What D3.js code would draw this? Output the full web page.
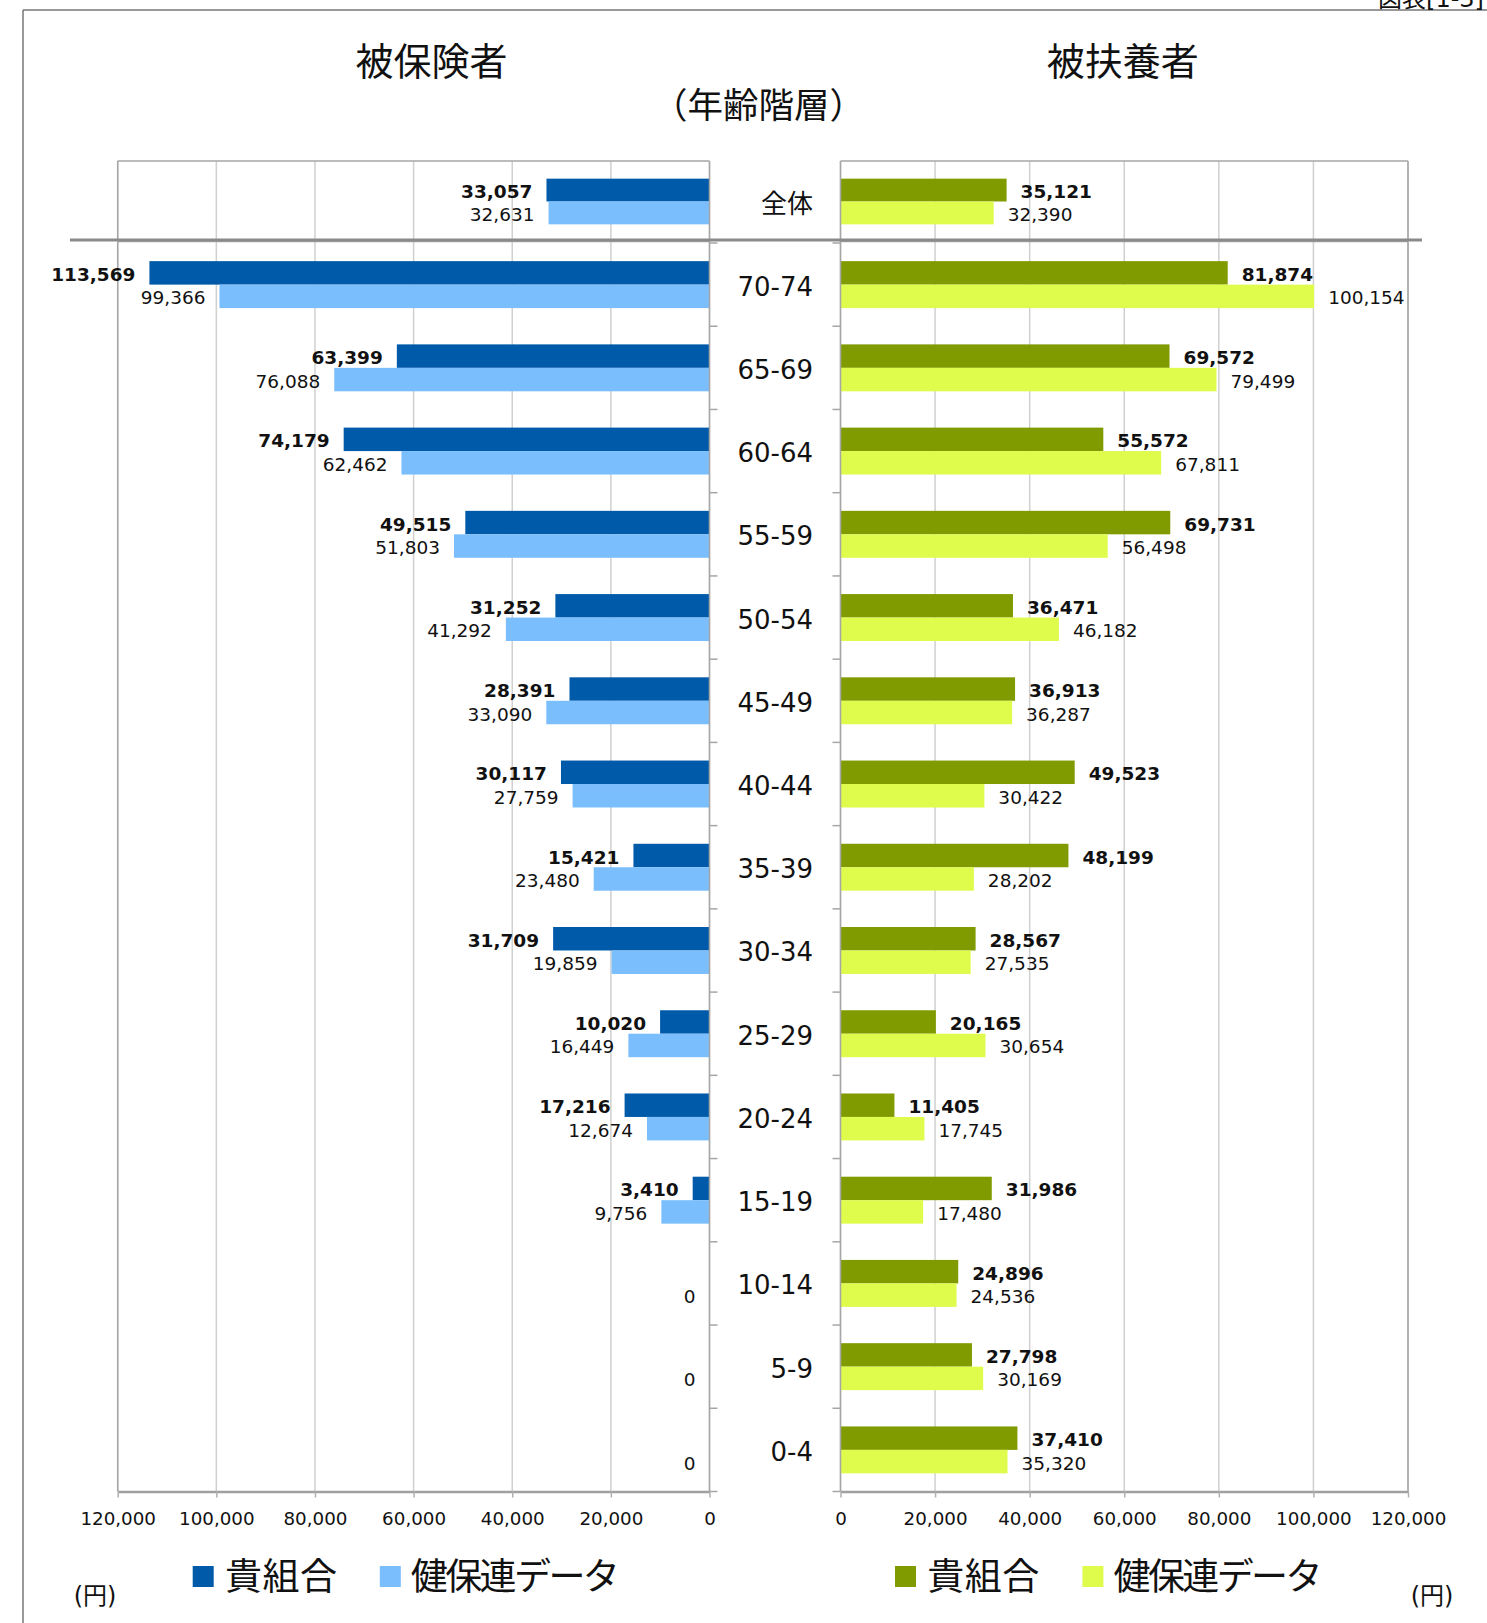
<!DOCTYPE html>
<html><head><meta charset="utf-8">
<script src="https://cdn.jsdelivr.net/npm/d3@7"></script>
<style>
html,body{margin:0;padding:0;background:#fff;}
svg{display:block;}
text{font-family:"DejaVu Sans","Noto Sans CJK JP",sans-serif;fill:#111;}
</style></head>
<body>
<svg id="chart" width="1487" height="1623"></svg>
<script>
// ---- data ----
const categories = ["全体","70-74","65-69","60-64","55-59","50-54","45-49","40-44","35-39","30-34","25-29","20-24","15-19","10-14","5-9","0-4"];
const insuredUnion   = [33057,113569,63399,74179,49515,31252,28391,30117,15421,31709,10020,17216,3410,null,null,null];
const insuredKenporen= [32631,99366,76088,62462,51803,41292,33090,27759,23480,19859,16449,12674,9756,0,0,0];
const dependUnion    = [35121,81874,69572,55572,69731,36471,36913,49523,48199,28567,20165,11405,31986,24896,27798,37410];
const dependKenporen = [32390,100154,79499,67811,56498,46182,36287,30422,28202,27535,30654,17745,17480,24536,30169,35320];
const xTicks = [0,20000,40000,60000,80000,100000,120000];
const seriesNames = ["貴組合","健保連データ"];
const colors = {insured:["#005AAA","#7BBEFD"], depend:["#809B00","#DFFB4C"]};

const svg = d3.select("#chart");
const fmt = d3.format(",");

// scales
const xL = d3.scaleLinear().domain([0,120000]).range([709.5,117.7]);
const xR = d3.scaleLinear().domain([0,120000]).range([840.5,1408]);
const yTop = d3.scaleBand().domain([categories[0]]).range([161,242]);
const yBot = d3.scaleBand().domain(categories.slice(1)).range([243,1491.5]);
const yOf = c => c === categories[0] ? yTop : yBot;
const sub = (band) => d3.scaleBand().domain([0,1]).range([0,band]).paddingInner(0).paddingOuter(0.773);

// outer frame
svg.append("line").attr("x1",23).attr("x2",23).attr("y1",10).attr("y2",1623).attr("stroke","#777").attr("stroke-width",1.5);
svg.append("line").attr("x1",23).attr("x2",1487).attr("y1",10).attr("y2",10).attr("stroke","#777").attr("stroke-width",1.5);
svg.append("text").attr("x",1484).attr("y",7).attr("text-anchor","end").style("font-size","24px").text("図表[1-3]");

// titles
svg.append("text").attr("x",431.5).attr("y",62).attr("text-anchor","middle").attr("dominant-baseline","central").style("font-size","38px").text("被保険者");
svg.append("text").attr("x",1122.8).attr("y",62).attr("text-anchor","middle").attr("dominant-baseline","central").style("font-size","38px").text("被扶養者");
svg.append("text").attr("x",758.5).attr("y",105).attr("text-anchor","middle").attr("dominant-baseline","central").style("font-size","35.5px").text("（年齢階層）");

function panel(x, y0, y1){
  const g = svg.append("g");
  g.selectAll("line.grid").data(xTicks).join("line")
    .attr("x1",d=>x(d)).attr("x2",d=>x(d)).attr("y1",y0).attr("y2",y1)
    .attr("stroke","#d0d0d0").attr("stroke-width",1.5);
  const outer = x(120000);
  g.append("line").attr("x1",outer).attr("x2",outer).attr("y1",y0).attr("y2",y1).attr("stroke","#a6a6a6").attr("stroke-width",1.5);
  g.append("line").attr("x1",x(0)).attr("x2",outer).attr("y1",y0).attr("y2",y0).attr("stroke","#a6a6a6").attr("stroke-width",1.5);
}
panel(xL,161,240); panel(xL,241.5,1491.5);
panel(xR,161,240); panel(xR,241.5,1491.5);

function drawBars(x, data, colorsArr, isLeft){
  const g = svg.append("g");
  data.forEach((vals, si) => {
    categories.forEach((c, i) => {
      const v = vals[i];
      if (v === null) return;
      const ys = yOf(c);
      const s = sub(ys.bandwidth());
      const y = ys(c) + s(si);
      const h = s.bandwidth();
      g.append("rect")
        .attr("x", Math.min(x(0), x(v))).attr("y", y)
        .attr("width", Math.abs(x(v)-x(0))).attr("height", h)
        .attr("fill", colorsArr[si]);
      g.append("text")
        .attr("x", isLeft ? x(v) - 14 : x(v) + 14)
        .attr("y", y + h/2 + 1.5)
        .attr("text-anchor", isLeft ? "end" : "start")
        .attr("dominant-baseline","central")
        .style("font-size","18.5px")
        .style("font-weight", si === 0 ? "bold" : "normal")
        .text(fmt(v));
    });
  });
}
drawBars(xL,[insuredUnion,insuredKenporen],colors.insured,true);
drawBars(xR,[dependUnion,dependKenporen],colors.depend,false);

// inner axis lines and category ticks
[[xL(0), 8],[xR(0), -8]].forEach(([ax, t]) => {
  svg.append("line").attr("x1",ax).attr("x2",ax).attr("y1",161).attr("y2",1491.5).attr("stroke","#a6a6a6").attr("stroke-width",1.5);
  const bounds = categories.slice(1).map(c => yBot(c)).concat([1491.5]);
  svg.selectAll(null).data(bounds).join("line")
    .attr("x1",ax).attr("x2",ax+t).attr("y1",d=>d).attr("y2",d=>d)
    .attr("stroke","#a6a6a6").attr("stroke-width",1.5);
});

// separator
svg.append("line").attr("x1",70).attr("x2",1422).attr("y1",240).attr("y2",240).attr("stroke","#8a8a8a").attr("stroke-width",3);

// bottom axes
function bottomAxis(x){
  const g = svg.append("g").attr("transform","translate(0,1491.5)")
    .call(d3.axisBottom(x).tickValues(xTicks).tickFormat(fmt).tickSize(6).tickSizeOuter(0));
  g.select(".domain").attr("stroke","#a0a0a0").attr("stroke-width",2.5);
  g.selectAll(".tick line").attr("stroke","#b0b0b0").attr("stroke-width",1.5);
  g.selectAll(".tick text").attr("y",27.5).attr("dy","0.35em").style("font-size","18.3px")
    .style("font-family","'DejaVu Sans',sans-serif").attr("fill","#111");
}
bottomAxis(xL); bottomAxis(xR);

// category labels
svg.selectAll("text.cat").data(categories).join("text").attr("class","cat")
  .attr("x",813).attr("y",c => yOf(c)(c) + yOf(c).bandwidth()/2 + 2)
  .attr("text-anchor","end").attr("dominant-baseline","central")
  .style("font-size","26px").text(d=>d);

// legends
function legend(items){
  items.forEach(it => {
    svg.append("rect").attr("x",it.sx).attr("y",1566).attr("width",21).attr("height",21).attr("fill",it.color);
    svg.append("text").attr("x",it.tx).attr("y",1577).attr("dominant-baseline","central")
      .style("font-size","37px").style("letter-spacing", it.ls + "px").text(it.name);
  });
}
legend([
  {sx:192.7, tx:225, color:colors.insured[0], name:seriesNames[0], ls:0.5},
  {sx:379.8, tx:410.8, color:colors.insured[1], name:seriesNames[1], ls:-2.6},
  {sx:895, tx:927.2, color:colors.depend[0], name:seriesNames[0], ls:0.5},
  {sx:1082.4, tx:1113.5, color:colors.depend[1], name:seriesNames[1], ls:-2.6}
]);

// unit labels
svg.append("text").attr("x",95).attr("y",1596).attr("text-anchor","middle").attr("dominant-baseline","central").style("font-size","24px").text("(円)");
svg.append("text").attr("x",1432).attr("y",1596).attr("text-anchor","middle").attr("dominant-baseline","central").style("font-size","24px").text("(円)");
</script>
</body></html>
